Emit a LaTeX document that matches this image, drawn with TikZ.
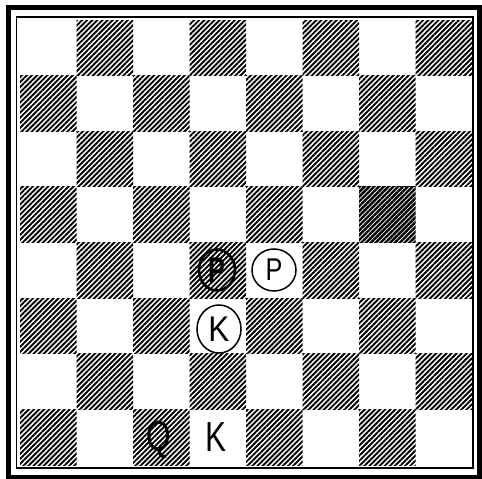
\documentclass[tikz,border=0pt]{standalone}
\usepackage{fontspec}
\setsansfont{Liberation Sans}
\usetikzlibrary{patterns.meta,shapes.geometric}
\begin{document}
\begin{tikzpicture}[x=1pt,y=-1pt,
  darksq/.style={pattern={Lines[angle=45,distance=3.6pt,line width=1.9pt]},pattern color=black},
  darkersq/.style={pattern={Lines[angle=45,distance=3.4pt,line width=2.4pt]},pattern color=black},
  glyph/.style={font=\sffamily\fontsize{42}{42}\selectfont, inner sep=0pt, text=black},
  ringed/.style={glyph, draw, ellipse, line width=1.5pt},
  outerframe/.style={draw, line width=4.5pt},
  innerframe/.style={draw, line width=1.2pt}
]
\useasboundingbox (0,0) rectangle (482,479);
\fill[white] (0,0) rectangle (482,479);
% squares
\foreach \c in {0,...,7} {
  \foreach \r in {0,...,7} {
    \pgfmathtruncatemacro\odd{mod(\c+\r,2)}
    \ifnum\odd=1
      \fill[darksq] ({20+\c*56.5},{20+\r*55.625}) rectangle ++(56.5,55.625);
    \fi
  }
}
% darker square g5
\fill[white] ({20+6*56.5},{20+3*55.625}) rectangle ++(56.5,55.625);
\fill[darkersq] ({20+6*56.5},{20+3*55.625}) rectangle ++(56.5,55.625);
% frames
\draw[outerframe] (8.5,7.5) rectangle (479.5,477.5);
\draw[innerframe] (16.5,17) rectangle (473,468);
% pieces
\node[ringed, line width=2.6pt, minimum width=36pt, minimum height=41pt] (pd4) at (217,270) {\scalebox{0.6}[0.85]{\bfseries P}};
\node[ringed, minimum width=44pt, minimum height=42pt] (pe4) at (274,270) {\scalebox{0.6}[0.75]{P}};
\node[ringed, minimum width=44pt, minimum height=48pt] (kd3) at (219,329) {\scalebox{0.75}[0.85]{K}};
\node[glyph] (qc1) at (159,440) {\scalebox{0.75}[1]{Q}};
\node[glyph] (kd1) at (216,437) {\scalebox{0.75}[1]{K}};
\end{tikzpicture}
\end{document}
